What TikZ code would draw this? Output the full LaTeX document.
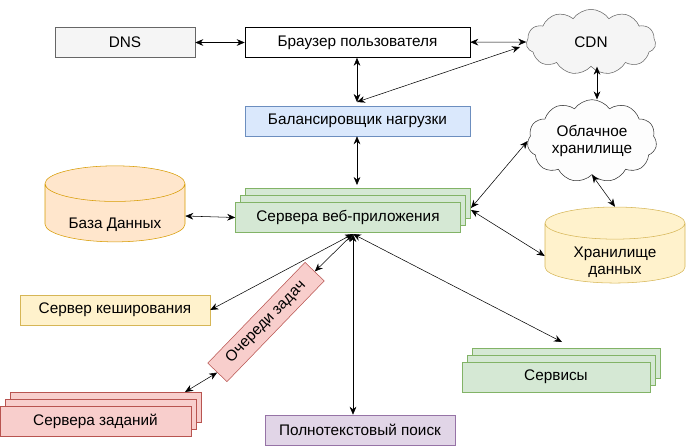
\documentclass[tikz,border=0pt]{standalone}
\usepackage{fontspec}
\setmainfont{Liberation Sans}
\usetikzlibrary{arrows.meta, shapes.geometric, shapes.symbols, shadows}
\definecolor{grayfill}{HTML}{F5F5F5}
\definecolor{graydraw}{HTML}{666666}
\definecolor{bluefill}{HTML}{DAE8FC}
\definecolor{bluedraw}{HTML}{6C8EBF}
\definecolor{greenfill}{HTML}{D5E8D4}
\definecolor{greendraw}{HTML}{82B366}
\definecolor{orangefill}{HTML}{FFE6CC}
\definecolor{orangedraw}{HTML}{D79B00}
\definecolor{yellowfill}{HTML}{FFF2CC}
\definecolor{yellowdraw}{HTML}{D6B656}
\definecolor{redfill}{HTML}{F8CECC}
\definecolor{reddraw}{HTML}{B85450}
\definecolor{violetfill}{HTML}{E1D5E7}
\definecolor{violetdraw}{HTML}{9673A6}
\tikzset{
	box/.style={shape=rectangle, draw=#1, minimum height=22.5pt, inner sep=0pt},
	stack/.style 2 args={box=#2, fill=#1,
		double copy shadow={shadow xshift=3.75pt, shadow yshift=5.25pt, fill=#1, draw=#2}},
	db/.style 2 args={cylinder, shape border rotate=90, aspect=0.35, fill=#1, draw=#2,
		minimum width=105pt, minimum height=57pt, align=center},
	sky/.style 2 args={cloud, cloud puffs=11, cloud puff arc=110, aspect=2, fill=#1, draw=#2,
		minimum width=97pt, align=center, inner sep=0pt},
	link/.style={{Stealth[length=6pt,width=5pt]}-{Stealth[length=6pt,width=5pt]}, thin}
}
\begin{document}
\begin{tikzpicture}[x=0.75pt, y=-0.75pt, font=\fontsize{11.5}{13}\selectfont]
	\useasboundingbox (0,0) rectangle (686,447);

	\node[box=graydraw, fill=grayfill, minimum width=105pt] at (125,42.5) (dns){DNS};
	\node[box=black, minimum width=168.75pt] at (357.5,42.5) (browser){Браузер пользователя};
	\node[sky={grayfill}{graydraw}, minimum height=49pt] at (591,42) (cdn){CDN};
	\node[box=bluedraw, fill=bluefill, minimum width=168.75pt] at (357.5,121) (lb){Балансировщик нагрузки};
	\node[sky={grayfill!90!black!5}{black!80}, minimum height=62pt] at (592,141) (cloud){Облачное\\хранилище};
	\node[stack={greenfill}{greendraw}, minimum width=168.75pt] at (348,217.5) (web){Сервера веб-приложения};
	\node[db={orangefill}{orangedraw}] at (115,216) (db){\raisebox{-9pt}[0pt][0pt]{База Данных}};
	\node[db={yellowfill}{yellowdraw}] at (615,256) (store){\raisebox{-14pt}[0pt][0pt]{\shortstack[c]{Хранилище\\[1pt]данных}}};
	\node[box=yellowdraw, fill=yellowfill, minimum width=142.5pt] at (115,310) (cache){Сервер кеширования};
	\node[box=reddraw, fill=redfill, minimum width=105pt, minimum height=20pt, rotate=46] at (266,322) (queue){Очереди задач};
	\node[stack={redfill}{reddraw}, minimum width=143pt] at (95.5,421) (jobs){Сервера заданий};
	\node[box=violetdraw, fill=violetfill, minimum width=142.5pt] at (360,430) (search){Полнотекстовый поиск};
	\node[stack={greenfill}{greendraw}, minimum width=141pt] at (556,377) (svc){Сервисы};
	\coordinate (hub) at (353,234);

	\draw[link] (dns) -- (browser);
	\draw[link] (browser) -- (cdn.west);
	\draw[link] (browser.south -| 357,0) -- (357,102);
	\draw[link] (357,102) -- (520,47);
	\draw[link] (lb.south -| 357,0) -- (357,185);
	\draw[link] (db.east) -- (web.west);
	\draw[link] (471,208) -- (cloud.west);
	\draw[link] (471,210) -- (store.west);
	\draw[link] (cdn.south -| 597,0) -- (cloud.north -| 597,0);
	\draw[link] (cloud.south) -- (store.north);
	\draw[link] (hub) -- (cache.east);
	\draw[link] (hub) -- (queue.east);
	\draw[link] (hub) -- (search.north -| hub);
	\draw[link] (hub) -- (562,342);
	\draw[link] (queue.west) -- (185,392);
\end{tikzpicture}
\end{document}
